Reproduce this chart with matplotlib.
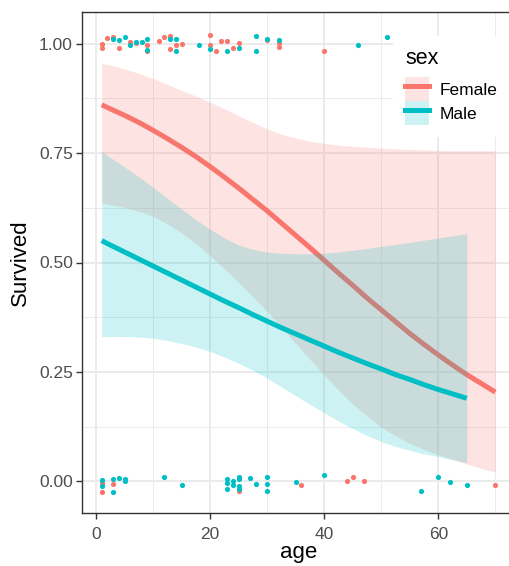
import numpy as np
import matplotlib.pyplot as plt
from matplotlib.patches import Patch
from matplotlib.lines import Line2D
from matplotlib.ticker import MultipleLocator, FormatStrFormatter

plt.rcParams["font.family"] = ["Liberation Sans", "DejaVu Sans"]

# --------------------------
# Data
# --------------------------
red = "#F8766D"
cyan = "#00BFC4"

# jittered survivors / non-survivors
f_top_age = [1, 1, 2, 3, 4, 6, 7, 9, 9, 11, 12, 13, 13, 14, 15, 20, 20, 21, 22, 23, 24, 25, 30, 32, 32, 40]
f_top_y = [0.999, 0.990, 1.013, 1.016, 0.990, 1.003, 1.001, 0.997, 0.982, 1.005, 1.016, 1.018, 0.987,
           0.997, 0.999, 1.020, 0.997, 0.984, 1.005, 1.005, 0.990, 1.002, 1.007, 1.001, 0.992, 0.982]
m_top_age = [3, 4, 5, 6, 7, 8, 9, 9, 13, 14, 14, 18, 20, 23, 25, 28, 28, 30, 32, 46, 51]
m_top_y = [1.011, 1.007, 1.016, 0.997, 1.003, 1.003, 1.011, 0.986, 1.011, 1.011, 0.984, 0.997, 0.987,
           0.982, 0.990, 1.018, 0.982, 1.011, 1.007, 0.996, 1.014]

f_bot_age = [1, 1, 3, 25, 36, 44, 45, 47, 70]
f_bot_y = [-0.004, -0.023, -0.006, -0.021, -0.007, 0.002, 0.010, 0.000, -0.007]
m_bot_age = [1, 1, 3, 3, 4, 5, 5, 12, 15, 23, 23, 23, 24, 24, 25, 25, 25, 25, 27, 28, 30, 30, 30,
             35, 40, 57, 60, 62, 65]
m_bot_y = [0.004, -0.010, 0.006, -0.023, 0.009, 0.006, 0.000, 0.010, -0.009, 0.006, -0.004, -0.017,
           0.000, -0.009, 0.011, 0.006, -0.011, -0.017, 0.008, -0.005, 0.011, -0.005, -0.021,
           -0.001, 0.015, -0.021, 0.010, -0.002, -0.007]

# smooth fits (logistic) with confidence band
f_age = [1, 2.5, 5, 7.5, 10, 12.5, 15, 17.5, 20, 22.5, 25, 27.5, 30, 32.5, 35,
         37.5, 40, 42.5, 45, 47.5, 50, 52.5, 55, 57.5, 60, 62.5, 65, 67.5, 70]
f_fit = [0.860, 0.851, 0.836, 0.820, 0.802, 0.783, 0.763, 0.742, 0.719, 0.695, 0.670, 0.644, 0.618, 0.590, 0.562,
         0.534, 0.505, 0.476, 0.448, 0.419, 0.392, 0.365, 0.338, 0.313, 0.289, 0.266, 0.244, 0.224, 0.204]
f_hi = [0.955, 0.951, 0.942, 0.932, 0.920, 0.907, 0.893, 0.880, 0.866, 0.851, 0.835, 0.820, 0.805, 0.793, 0.784,
        0.777, 0.772, 0.768, 0.765, 0.763, 0.761, 0.759, 0.758, 0.757, 0.756, 0.755, 0.755, 0.755, 0.755]
f_lo = [0.636, 0.632, 0.626, 0.617, 0.606, 0.588, 0.568, 0.543, 0.515, 0.486, 0.455, 0.422, 0.388, 0.352, 0.315,
        0.279, 0.243, 0.209, 0.177, 0.149, 0.124, 0.104, 0.087, 0.073, 0.061, 0.050, 0.040, 0.030, 0.021]

m_age = [1, 2.5, 5, 7.5, 10, 12.5, 15, 17.5, 20, 22.5, 25, 27.5, 30, 32.5, 35,
         37.5, 40, 42.5, 45, 47.5, 50, 52.5, 55, 57.5, 60, 62.5, 65]
m_fit = [0.550, 0.540, 0.524, 0.508, 0.492, 0.476, 0.460, 0.444, 0.428, 0.412, 0.397, 0.381, 0.366, 0.351, 0.337,
         0.323, 0.309, 0.295, 0.282, 0.269, 0.257, 0.244, 0.233, 0.221, 0.210, 0.200, 0.190]
m_hi = [0.753, 0.740, 0.718, 0.696, 0.672, 0.647, 0.622, 0.598, 0.576, 0.556, 0.540, 0.530, 0.524, 0.521, 0.520,
        0.520, 0.521, 0.524, 0.528, 0.532, 0.537, 0.541, 0.546, 0.551, 0.556, 0.561, 0.566]
m_lo = [0.331, 0.331, 0.331, 0.330, 0.327, 0.322, 0.315, 0.307, 0.297, 0.284, 0.270, 0.254, 0.236, 0.216, 0.196,
        0.176, 0.157, 0.138, 0.121, 0.105, 0.091, 0.080, 0.071, 0.063, 0.057, 0.050, 0.043]

# --------------------------
# Plot
# --------------------------
fig = plt.figure(figsize=(5.1, 5.66), dpi=100)
ax = fig.add_axes([82 / 510, 53 / 566, 433 / 510, 501 / 566])

ax.scatter(f_top_age, f_top_y, s=14, color=red, lw=0, zorder=2)
ax.scatter(m_top_age, m_top_y, s=14, color=cyan, lw=0, zorder=2)
ax.scatter(f_bot_age, f_bot_y, s=14, color=red, lw=0, zorder=2)
ax.scatter(m_bot_age, m_bot_y, s=14, color=cyan, lw=0, zorder=2)

ax.fill_between(f_age, f_lo, f_hi, color=red, alpha=0.2, lw=0, zorder=3)
ax.plot(f_age, f_fit, color=red, lw=3.6, solid_capstyle="butt", solid_joinstyle="round", zorder=4)
ax.fill_between(m_age, m_lo, m_hi, color=cyan, alpha=0.2, lw=0, zorder=5)
ax.plot(m_age, m_fit, color=cyan, lw=3.6, solid_capstyle="butt", solid_joinstyle="round", zorder=6)

ax.set_xlim(-2.45, 73.45)
ax.set_ylim(-0.072, 1.072)
ax.xaxis.set_major_locator(MultipleLocator(20))
ax.xaxis.set_minor_locator(MultipleLocator(10))
ax.yaxis.set_major_locator(MultipleLocator(0.25))
ax.yaxis.set_minor_locator(MultipleLocator(0.125))
ax.yaxis.set_major_formatter(FormatStrFormatter("%.2f"))

ax.grid(which="major", color="#EBEBEB", lw=1.4, zorder=0)
ax.grid(which="minor", color="#EBEBEB", lw=0.7, zorder=0)
ax.set_axisbelow(True)
for side in ["left", "bottom", "top"]:
    ax.spines[side].set_color("#333333")
    ax.spines[side].set_linewidth(1.0)
ax.spines["right"].set_visible(False)

ax.tick_params(which="major", length=4, width=1.0, color="#333333",
               labelsize=12.5, labelcolor="#4D4D4D", pad=2.5)
ax.tick_params(axis="x", which="major", pad=6)
ax.tick_params(which="minor", length=0)

ax.set_xlabel("age", fontsize=16, labelpad=0)
ax.set_ylabel("Survived", fontsize=16, labelpad=6)

handles = [
    (Patch(facecolor=red, alpha=0.2, edgecolor="none"), Line2D([], [], color=red, lw=3.6)),
    (Patch(facecolor=cyan, alpha=0.2, edgecolor="none"), Line2D([], [], color=cyan, lw=3.6)),
]
leg = ax.legend(handles, ["Female", "Male"], title="sex", loc="upper left",
                bbox_to_anchor=(393 / 510, 1 - 36 / 566), bbox_transform=fig.transFigure,
                fontsize=12.5, title_fontsize=15.5, alignment="left",
                handlelength=1.4, handleheight=1.72, labelspacing=0, handletextpad=0.6,
                borderpad=0.7, borderaxespad=0, frameon=True, fancybox=False)
leg.get_frame().set_facecolor("white")
leg.get_frame().set_edgecolor("none")
leg.get_frame().set_alpha(1)
leg.set_zorder(10)
leg._legend_box.sep = 6

fig.savefig("out.png", dpi=100)
